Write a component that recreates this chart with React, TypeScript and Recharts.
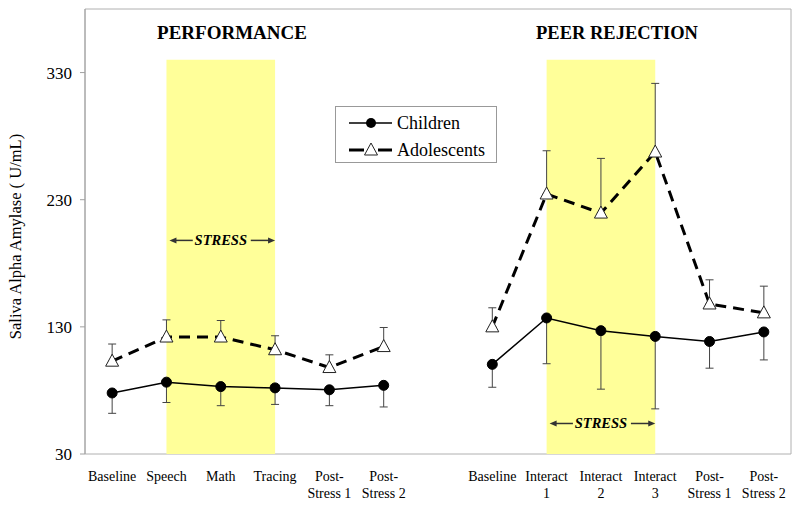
import React from "react";
import {
  LineChart,
  Line,
  XAxis,
  YAxis,
  ErrorBar,
  ReferenceArea,
  ReferenceLine,
  Legend,
} from "recharts";

const FONT = '"Liberation Serif", "Times New Roman", serif';

// one slot per sample, the empty slot separates the two sessions
const categories = [
  "Baseline",
  "Speech",
  "Math",
  "Tracing",
  "Post-\nStress 1",
  "Post-\nStress 2",
  "",
  "Baseline",
  "Interact\n1",
  "Interact\n2",
  "Interact\n3",
  "Post-\nStress 1",
  "Post-\nStress 2",
];
const seriesNames = ["Children", "Adolescents"];
const childrenMeans = [78, 86.5, 83, 82, 80.5, 84, null, 100.5, 137, 127, 122.5, 118.5, 126];
const childrenSE = [16, 16, 15, 13, 12.5, 17, null, 18, 36, 46, 57, 21, 22];
const adolescentMeans = [103, 122, 122, 112, 98, 114.5, null, 130, 234.5, 219.5, 267.5, 148, 141];
const adolescentSE = [13.5, 13.5, 13, 11, 10, 15, null, 15, 34, 43, 54, 19, 21];
const yTicks = [30, 130, 230, 330];
const stressPerformance = ["Speech", "Tracing"];
const stressPeer = ["Interact\n1", "Interact\n3"];

const data = categories.map((label, i) => ({
  x: i + 0.5,
  label,
  children: childrenMeans[i],
  childrenErr: childrenSE[i] == null ? null : [childrenSE[i], 0],
  adolescents: adolescentMeans[i],
  adolescentsErr: adolescentSE[i] == null ? null : [0, adolescentSE[i]],
}));

const boundaryTicks = [...categories.map((_, i) => i), categories.length];
const labelTicks = data.filter((d) => d.label !== "").map((d) => d.x);
const slot = (name: string) => categories.indexOf(name) + 0.5;

const CategoryTick = (props: any) => {
  const { x, y, payload } = props;
  const lines = categories[Math.floor(payload.value)].split("\n");
  return (
    <text x={x} y={y} textAnchor="middle" fontFamily={FONT} fontSize={14} fill="#000">
      {lines.map((l, i) => (
        <tspan key={i} x={x} y={y + 27 + i * 17}>
          {l}
        </tspan>
      ))}
    </text>
  );
};

const TriangleDot = (props: any) => {
  const { cx, cy } = props;
  if (cx == null || cy == null || isNaN(cx) || isNaN(cy)) return null;
  return (
    <path
      d={`M${cx},${cy - 7} L${cx + 6.5},${cy + 5} L${cx - 6.5},${cy + 5} Z`}
      fill="#fff"
      stroke="#222"
      strokeWidth={1}
    />
  );
};

const Arrow = ({ from, to, y }: { from: number; to: number; y: number }) => {
  const dir = to > from ? 1 : -1;
  return (
    <g>
      <line x1={from} y1={y} x2={to - dir * 5} y2={y} stroke="#333" strokeWidth={1.5} />
      <path d={`M${to},${y} L${to - dir * 7},${y - 3} L${to - dir * 7},${y + 3} Z`} fill="#333" />
    </g>
  );
};

const StressLabel = (props: any) => {
  const { x, y, width } = props.viewBox;
  const cx = x + width / 2;
  return (
    <g>
      <Arrow from={cx - 28} to={x + 3} y={y} />
      <text
        x={cx}
        y={y + 5}
        textAnchor="middle"
        fontFamily={FONT}
        fontSize={14.5}
        fontWeight="bold"
        fontStyle="italic"
        fill="#000"
      >
        STRESS
      </text>
      <Arrow from={cx + 30} to={x + width} y={y} />
    </g>
  );
};

const YLabel = (props: any) => {
  const { x, y, height } = props.viewBox;
  const cx = x + 15;
  const cy = y + height / 2 + 5;
  return (
    <text
      x={cx}
      y={cy}
      transform={`rotate(-90, ${cx}, ${cy})`}
      textAnchor="middle"
      dominantBaseline="central"
      fontFamily={FONT}
      fontSize={16.5}
      fill="#000"
    >
      Saliva Alpha Amylase ( U/mL)
    </text>
  );
};

const LegendBox = (props: any) => {
  const payload = [...(props.payload || [])].sort(
    (a: any, b: any) => seriesNames.indexOf(a.value) - seriesNames.indexOf(b.value)
  );
  return (
    <div
      style={{
        width: 162,
        height: 57,
        border: "1px solid #999",
        background: "#fff",
        boxSizing: "border-box",
      }}
    >
      <svg width={160} height={55}>
        {payload.map((entry: any, i: number) => {
          const cy = 16 + i * 27;
          const dashed = entry.dataKey === "adolescents";
          return (
            <g key={entry.value}>
              {dashed ? (
                <g>
                  <line x1={13} y1={cy} x2={28} y2={cy} stroke="#000" strokeWidth={3} />
                  <line x1={42} y1={cy} x2={56} y2={cy} stroke="#000" strokeWidth={3} />
                  <TriangleDot cx={35} cy={cy} />
                </g>
              ) : (
                <g>
                  <line x1={13} y1={cy} x2={56} y2={cy} stroke="#000" strokeWidth={1.5} />
                  <circle cx={35} cy={cy} r={5} fill="#000" />
                </g>
              )}
              <text x={61} y={cy + 6} fontFamily={FONT} fontSize={18} fill="#000">
                {entry.value}
              </text>
            </g>
          );
        })}
      </svg>
    </div>
  );
};

export default function App() {
  return (
    <div style={{ position: "absolute", left: 0, top: 0, width: 800, height: 506, background: "#fff" }}>
      <LineChart
        width={800}
        height={506}
        data={data}
        margin={{ top: 9, right: 9, bottom: 0, left: 0 }}
      >
        <XAxis
          xAxisId="marks"
          type="number"
          dataKey="x"
          domain={[0, categories.length]}
          ticks={boundaryTicks}
          tick={false}
          tickLine={{ stroke: "#a0a0a0" }}
          axisLine={{ stroke: "#a0a0a0" }}
          tickSize={5}
          height={0}
        />
        <XAxis
          xAxisId="labels"
          type="number"
          dataKey="x"
          domain={[0, categories.length]}
          ticks={labelTicks}
          interval={0}
          tick={<CategoryTick />}
          tickLine={false}
          axisLine={false}
          tickSize={0}
          tickMargin={0}
          height={52}
        />
        <YAxis
          type="number"
          domain={[30, 380]}
          ticks={yTicks}
          width={85}
          tick={{ fontSize: 17, fill: "#000", fontFamily: FONT }}
          tickLine={{ stroke: "#a0a0a0" }}
          axisLine={{ stroke: "#a0a0a0" }}
          tickSize={5}
          tickMargin={8}
          label={<YLabel />}
        />
        <ReferenceArea
          xAxisId="labels"
          x1={0}
          x2={categories.length}
          y1={30}
          y2={380}
          fill="none"
          stroke="#b0b0b0"
        />
        <ReferenceArea
          xAxisId="labels"
          x1={slot(stressPerformance[0])}
          x2={slot(stressPerformance[1])}
          y1={30}
          y2={340}
          fill="#FFFF99"
          fillOpacity={1}
          stroke="none"
        />
        <ReferenceArea
          xAxisId="labels"
          x1={slot(stressPeer[0])}
          x2={slot(stressPeer[1])}
          y1={30}
          y2={340}
          fill="#FFFF99"
          fillOpacity={1}
          stroke="none"
        />
        <ReferenceLine
          xAxisId="labels"
          segment={[
            { x: slot(stressPerformance[0]), y: 198 },
            { x: slot(stressPerformance[1]), y: 198 },
          ]}
          stroke="none"
          label={<StressLabel />}
        />
        <ReferenceLine
          xAxisId="labels"
          segment={[
            { x: slot(stressPeer[0]), y: 54 },
            { x: slot(stressPeer[1]), y: 54 },
          ]}
          stroke="none"
          label={<StressLabel />}
        />
        <Line
          xAxisId="labels"
          name={seriesNames[0]}
          dataKey="children"
          stroke="#000"
          strokeWidth={1.5}
          dot={{ r: 5, fill: "#000", stroke: "#000", strokeWidth: 1 }}
          isAnimationActive={false}
        >
          <ErrorBar dataKey="childrenErr" stroke="#444" strokeWidth={1} width={4} />
        </Line>
        <Line
          xAxisId="labels"
          name={seriesNames[1]}
          dataKey="adolescents"
          stroke="#000"
          strokeWidth={3}
          strokeDasharray="11 7"
          dot={<TriangleDot />}
          isAnimationActive={false}
        >
          <ErrorBar dataKey="adolescentsErr" stroke="#444" strokeWidth={1} width={4} />
        </Line>
        <Legend
          layout="horizontal"
          verticalAlign="middle"
          align="center"
          content={<LegendBox />}
          wrapperStyle={{ left: 335, top: 106, width: 162, height: 57 }}
        />
      </LineChart>
      <svg
        width={800}
        height={506}
        style={{ position: "absolute", left: 0, top: 0, pointerEvents: "none" }}
      >
        <text x={232} y={39} textAnchor="middle" fontFamily={FONT} fontSize={19} fontWeight="bold">
          PERFORMANCE
        </text>
        <text x={617} y={39} textAnchor="middle" fontFamily={FONT} fontSize={18.5} fontWeight="bold">
          PEER REJECTION
        </text>
      </svg>
    </div>
  );
}
